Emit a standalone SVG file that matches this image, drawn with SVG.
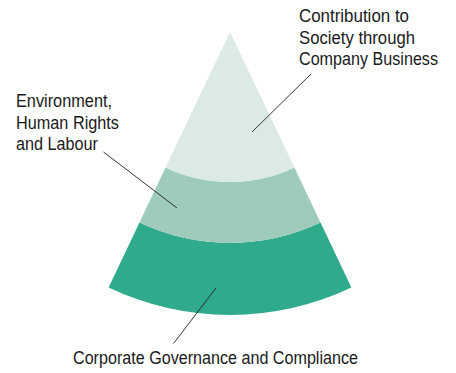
<svg xmlns="http://www.w3.org/2000/svg" width="456" height="373" viewBox="0 0 456 373">
<style>
.lbl{font-family:"Liberation Sans Narrow","Liberation Sans",Arial,sans-serif;font-size:17.5px;fill:#1a1a1a}
.ld{stroke:#231f20;stroke-width:0.9;fill:none}
</style>
<rect width="456" height="373" fill="#ffffff"/>
<g id="bottom-layer">
<path d="M108.6,287.6 A283,283 0 0 0 351.4,287.6 L320.5,222.6 A211,211 0 0 1 139.5,222.6 Z" fill="#2faa8c"/>
</g>
<g id="middle-layer">
<path d="M139.5,222.6 A211,211 0 0 0 320.5,222.6 L294.4,167.5 A150,150 0 0 1 165.6,167.5 Z" fill="#9ecbba"/>
</g>
<g id="top-layer">
<path d="M230,32 L165.6,167.5 A150,150 0 0 0 294.4,167.5 Z" fill="#dceae5"/>
</g>
<g id="connectors">
<line class="ld" x1="311" y1="74" x2="252" y2="132"/>
<line class="ld" x1="103.5" y1="152" x2="177" y2="208"/>
<line class="ld" x1="216" y1="288" x2="173.5" y2="343.5"/>
</g>
<g id="label-top">
<text class="lbl" x="299" y="22" textLength="110" lengthAdjust="spacingAndGlyphs">Contribution to</text>
<text class="lbl" x="299" y="43.5" textLength="116" lengthAdjust="spacingAndGlyphs">Society through</text>
<text class="lbl" x="299" y="65" textLength="139" lengthAdjust="spacingAndGlyphs">Company Business</text>
</g>
<g id="label-middle">
<text class="lbl" x="16" y="107" textLength="96" lengthAdjust="spacingAndGlyphs">Environment,</text>
<text class="lbl" x="16" y="128.5" textLength="103" lengthAdjust="spacingAndGlyphs">Human Rights</text>
<text class="lbl" x="16" y="150" textLength="82" lengthAdjust="spacingAndGlyphs">and Labour</text>
</g>
<g id="label-bottom">
<text class="lbl" x="73" y="364" textLength="285" lengthAdjust="spacingAndGlyphs">Corporate Governance and Compliance</text>
</g>
</svg>
